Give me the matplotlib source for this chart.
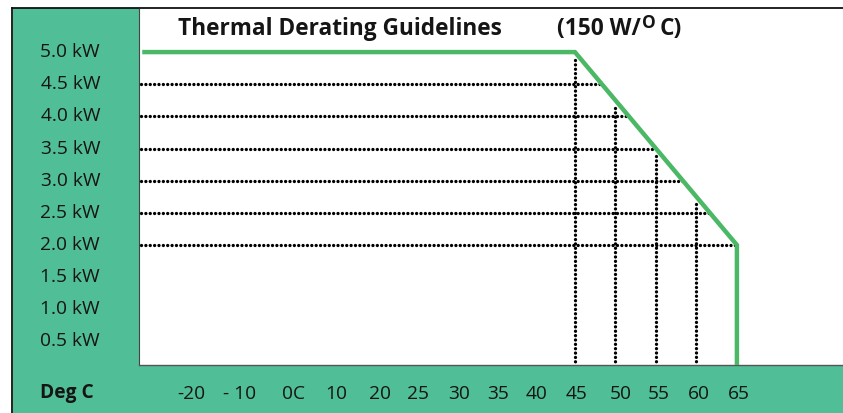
import numpy as np
import matplotlib
matplotlib.use("Agg")
import matplotlib.pyplot as plt
from matplotlib.patches import Rectangle
from matplotlib.lines import Line2D

# ---------------- data ----------------
power_ticks = [0.5, 1.0, 1.5, 2.0, 2.5, 3.0, 3.5, 4.0, 4.5, 5.0]
power_labels = ["0.5 kW", "1.0 kW", "1.5 kW", "2.0 kW", "2.5 kW",
                "3.0 kW", "3.5 kW", "4.0 kW", "4.5 kW", "5.0 kW"]
temp_labels = ["-20", "- 10", "0C", "10", "20", "25", "30", "35", "40",
               "45", "50", "55", "60", "65"]
# derating curve (temperature in deg C, power in kW)
curve_temp = [45, 65, 65]
curve_kw = [5.0, 2.0, 0.0]
full_power_kw = 5.0
guide_temps = [45, 50, 55, 60]
guide_kws = [4.5, 4.0, 3.5, 3.0, 2.5, 2.0]

# ---------------- layout ----------------
W, H = 843, 413
DPI = 100
fig = plt.figure(figsize=(W / DPI, H / DPI), dpi=DPI)
plt.rcParams['font.family'] = ['Open Sans', 'DejaVu Sans']

def fx(px):
    return px / W

def fy(py):
    return 1 - py / H

panel = "#50BE96"
curve_col = "#4BB866"
txt = "#151515"

# green panels
fig.add_artist(Rectangle((fx(13), fy(413)), fx(139) - fx(13), fy(8) - fy(413),
                         transform=fig.transFigure, color=panel, zorder=-10, lw=0))
fig.add_artist(Rectangle((fx(13), fy(413)), 1 - fx(13), fy(365) - fy(413),
                         transform=fig.transFigure, color=panel, zorder=-10, lw=0))
# frame lines
fig.add_artist(Line2D([fx(12), 1], [fy(8), fy(8)], transform=fig.transFigure,
                      color="#111111", lw=1.3, zorder=5))
fig.add_artist(Line2D([fx(12), fx(12)], [fy(8), 0], transform=fig.transFigure,
                      color="#111111", lw=1.3, zorder=5))

ax = fig.add_axes([fx(139), fy(365), 1 - fx(139), fy(9) - fy(365)])
ax.set_facecolor("white")

x_left, x_right = -8.83, 78.1
ax.set_xlim(x_left, x_right)
ax.set_ylim(0.134, 5.67)

tick_pos = [-2.4, 3.6, 10.2, 15.5, 20.9, 25.6, 30.7, 35.5, 40.3,
            45.2, 50.7, 55.4, 60.3, 65.2]

# derating curve starts at left edge of chart
xs = [x_left + 0.4] + curve_temp
ys = [full_power_kw] + curve_kw
ax.plot(xs, ys, color=curve_col, lw=3.2, solid_capstyle='butt',
        solid_joinstyle='miter', zorder=4, clip_on=True)

dot_style = dict(color="black", lw=2.4, linestyle=(0, (0.01, 1.3)),
                 dash_capstyle='round', zorder=3)
ymin = ax.get_ylim()[0]
for t in guide_temps:
    top = np.interp(t, [x_left] + curve_temp[:2], [full_power_kw] + curve_kw[:2])
    ax.plot([t, t], [top - 0.12, ymin], **dot_style)
for k in guide_kws:
    # temperature where curve reaches this power
    t_end = np.interp(k, curve_kw[1::-1], curve_temp[1::-1])
    ax.plot([x_left + 0.2, t_end], [k, k], **dot_style)

# axes styling
for s in ["top", "right"]:
    ax.spines[s].set_visible(False)
ax.spines["left"].set_color("#444444")
ax.spines["left"].set_linewidth(0.8)
ax.spines["bottom"].set_color("#555555")
ax.spines["bottom"].set_linewidth(1.0)

ax.set_yticks(power_ticks, power_labels)
ax.set_xticks(tick_pos, temp_labels)
ax.tick_params(axis="both", length=0, colors=txt, labelsize=13.8)
ax.tick_params(axis="y", pad=28)
ax.tick_params(axis="x", pad=21)
for lab in ax.get_xticklabels():
    lab.set_verticalalignment("center")
for lab in ax.get_yticklabels():
    lab.set_verticalalignment("center")

fig.text(fx(40), fy(393), "Deg C", fontsize=13.8, fontweight="bold",
         color=txt, ha="left", va="center")

# title
fig.text(fx(178), fy(29), "Thermal Derating Guidelines", fontsize=16.3,
         fontweight="bold", color=txt, ha="left", va="center")

fig.canvas.draw()
renderer = fig.canvas.get_renderer()
t1 = fig.text(fx(557), fy(29), "(150 W/", fontsize=16.3, fontweight="bold",
              color=txt, ha="left", va="center")
bb = t1.get_window_extent(renderer)
t2 = fig.text((bb.x1 + 1) / W, fy(23), "O", fontsize=12.5, fontweight="bold",
              color=txt, ha="left", va="center")
bb2 = t2.get_window_extent(renderer)
fig.text((bb2.x1 + 4) / W, fy(29), "C)", fontsize=16.3, fontweight="bold",
         color=txt, ha="left", va="center")

fig.savefig("out.png", dpi=DPI)
